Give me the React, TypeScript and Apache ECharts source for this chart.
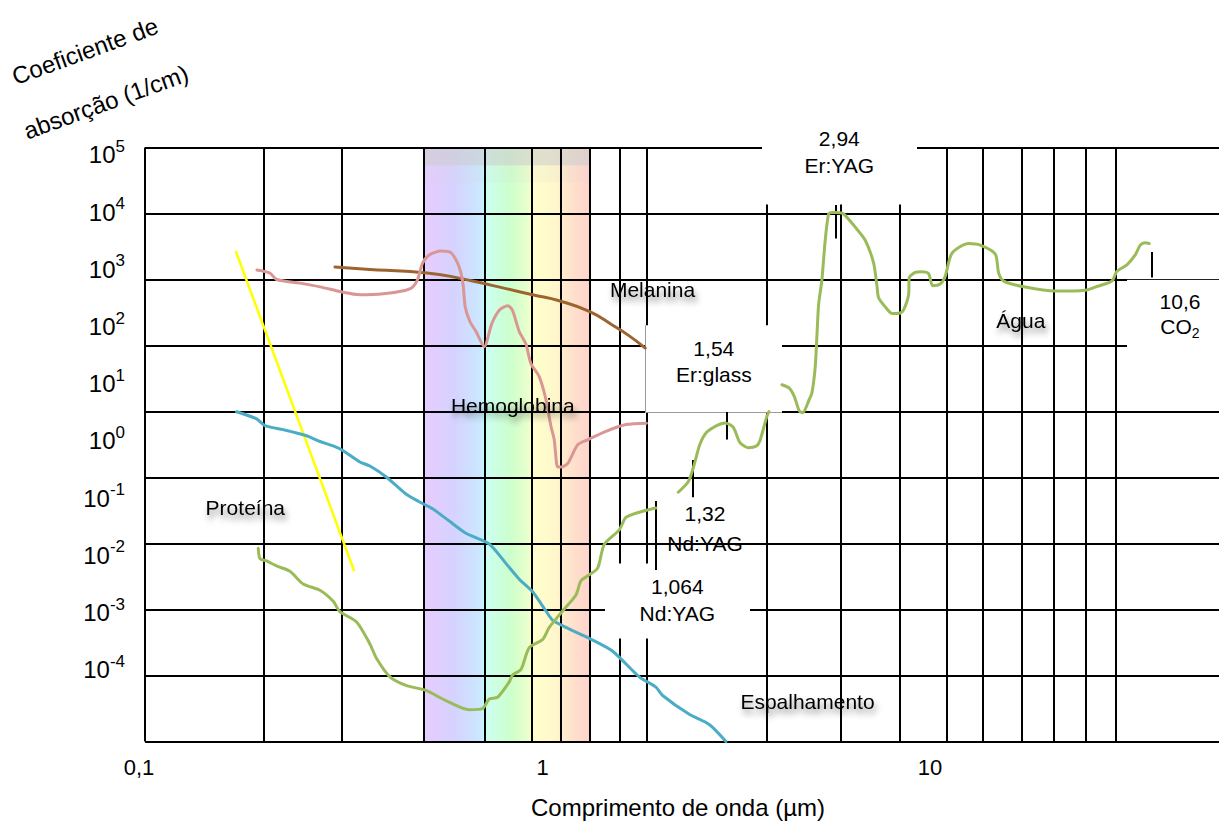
import React, { useEffect, useRef } from "react";
import * as echarts from "echarts";

const FONT = '"Liberation Sans", Arial, Helvetica, sans-serif';

// ===== Values: wavelength (µm) and absorption coefficient (1/cm) =====
const proteinWavelength = [0.1705, 0.3406];
const proteinAbsorption = [2640, 0.0393];

const melaninWavelength = [0.3047, 0.3741, 0.4621, 0.5618, 0.6834, 0.8308, 0.9718, 1.1359, 1.3547, 1.5539, 1.713, 1.8813];
const melaninAbsorption = [1545, 1423, 1330, 1187, 947, 728, 587, 476, 328, 203, 140, 91.2];

const hemoglobinWavelength = [
  0.1929, 0.2081, 0.2164, 0.2481, 0.279, 0.3198, 0.3528, 0.4044, 0.4621, 0.4807, 0.4949, 0.5096, 0.5298, 0.5675,
  0.6018, 0.6258, 0.6381, 0.6467, 0.6543, 0.6726, 0.6967, 0.7316, 0.7653, 0.8021, 0.8392, 0.8631, 0.8984, 0.9343,
  0.9622, 1.0102, 1.0506, 1.0821, 1.1031, 1.1253, 1.1474, 1.1933, 1.2654, 1.3417, 1.494, 1.6799, 1.8945,
];
const hemoglobinAbsorption = [
  1390, 1250, 1000, 881, 774, 640, 587, 607, 689, 768, 1000, 1774, 2355, 2704, 2553, 1774, 1259, 807, 385, 231, 164,
  96, 217, 350, 401, 344, 163, 105, 53.2, 33.7, 15.2, 5.97, 3.72, 1.44, 1.44, 1.62, 3.12, 3.72, 5.0, 6.34, 6.65,
];

const scatteringWavelength = [
  0.1712, 0.1925, 0.2021, 0.225, 0.258, 0.279, 0.3017, 0.3198, 0.3528, 0.3741, 0.4126, 0.4621, 0.4995, 0.5404, 0.5958,
  0.657, 0.7533, 0.8308, 0.8983, 0.9718, 1.0506, 1.0928, 1.1814, 1.3547, 1.5539, 1.8164, 2.003, 2.0836, 2.4356,
  2.739, 3.0204,
];
const scatteringAbsorption = [
  9.93, 7.74, 6.12, 5.31, 4.29, 3.51, 3.01, 2.55, 1.72, 1.49, 1.01, 0.562, 0.43, 0.336, 0.219, 0.143, 0.0984, 0.05,
  0.0288, 0.01855, 0.0095, 0.00692, 0.00535, 0.00365, 0.00233, 0.000955, 0.000668, 0.000498, 0.000258, 0.000181,
  0.0001,
];

// null = the drawn curve is interrupted there
const waterWavelength = [
  0.1943, 0.1963, 0.2041, 0.2164, 0.234, 0.2529, 0.279, 0.3017, 0.3137, 0.346, 0.3741, 0.3891, 0.4207, 0.4621, 0.5196,
  0.5843, 0.6699, 0.7247, 0.7533, 0.7914, 0.8472, 0.8642, 0.9074, 0.9527, 1.0305, 1.0713, 1.1589, 1.2528, 1.2903,
  1.3417, 1.423, 1.4792, 1.6153, 1.6799, 1.8164, 2.003, 2.15, 2.2832, 2.4212, 2.493, 2.593, 2.697, 2.86, 3.003,
  3.1525, 3.279, 3.4426, 3.6166, 3.6872, 3.835, 3.887, 4.05, 4.195, 4.379, 4.509, 4.643, 4.737, 4.924, 5.002, 5.1,
  5.152, 5.203, 5.305, 5.408, 5.517, 5.625, 5.793, 6.025, 6.449, 6.839, 7.184, 7.325, 7.398, 7.69, 8.012, 8.397,
  8.566, 8.821, 8.853, 9.17, 9.537, 9.92, 10.155, 10.618, 10.934, 11.373, 12.543, 13.427, 14.661, 14.957, 15.403,
  17.483, 20.847, 24.858, 26.36, 29.07, 29.94, 31.75, 33.33, 34.33, 35.35, 36.18,
];
const waterAbsorption = [
  0.0847, 0.0589, 0.0546, 0.0457, 0.038, 0.0244, 0.0196, 0.0133, 0.00926, 0.00648, 0.00301, 0.00181, 0.000955,
  0.00071, 0.000594, 0.000416, 0.000302, 0.000316, 0.00044, 0.000468, 0.0008, 0.00102, 0.00123, 0.00265, 0.00351,
  0.00535, 0.0095, 0.01663, 0.0273, 0.0322, 0.0424, 0.0968, 0.161, 0.248, 0.298, 0.345, null, 0.598, 0.863, 1.392,
  3.18, 4.83, 6.12, 6.72, 5.77, 3.38, 2.83, 3.01, 3.59, 8.22, 10, null, 25.4, 22.6, 17.0, 10.2, 9.58, 15.2, 19.05,
  47.5, 144.5, 419, 1000, 3936, 9840, 10400, 10400, 9840, 6210, 3936, 1774, 807, 528, 385, 305, 311, 346, 587, 1060,
  1284, 1315, 1228, 807, 853, 1120, 2495, 3516, 3319, 2438, 1259, 947, 768, 667, 689, 768, 947, 1330, 1671, 2355,
  3319, 3589, 3516,
];

// ===== Tick labels =====
const yTickExponents = [5, 4, 3, 2, 1, 0, -1, -2, -3, -4];

// ===== Layout (pixel positions measured on the reference) =====
const gridLeft = 145;
const gridTop = 147.5;
const gridWidth = 1074;
const gridHeight = 594;
const pxPerDecadeX = 392.5;
const refRowsPx = [147.5, 212.8, 280, 352.3, 419.5, 484.3, 547, 616.7, 676.7, 741.3]; // 1e5 ... 1e-4

const lamAt = (px: number) => Math.pow(10, -1 + (px - gridLeft) / pxPerDecadeX);
const expAt = (py: number) => {
  const r = refRowsPx;
  let i = 0;
  if (py >= r[r.length - 1]) i = r.length - 2;
  else if (py > r[0]) {
    while (py > r[i + 1]) i++;
  }
  const t = (py - r[i]) / (r[i + 1] - r[i]);
  return 5 - i - t;
};
const alphaAt = (py: number) => Math.pow(10, expAt(py));
const yOnChart = (py: number) => gridTop + (gridHeight / 9) * (5 - expAt(py));

// vertical rules: [x, yTop, yBottom]
const verticalRules: number[][] = [
  [145, 147.5, 741.3],
  [263.3, 147.5, 741.3],
  [342, 147.5, 741.3],
  [423.3, 147.5, 741.3],
  [484.7, 147.5, 741.3],
  [531.3, 147.5, 741.3],
  [560.3, 147.5, 741.3],
  [590, 147.5, 741.3],
  [619.3, 147.5, 568],
  [619.3, 643, 741.3],
  [646.3, 147.5, 330],
  [646.3, 420, 568],
  [646.3, 643, 741.3],
  [766.7, 204, 330],
  [766.7, 420, 741.3],
  [840.3, 204, 741.3],
  [899.3, 204, 741.3],
  [946.7, 147.5, 741.3],
  [982.7, 147.5, 741.3],
  [1022, 147.5, 741.3],
  [1054, 147.5, 741.3],
  [1086, 147.5, 741.3],
  [1115.3, 147.5, 741.3],
];
// horizontal rules: [decade exponent, xLeft, xRight]
const horizontalRules: number[][] = [
  [5, 145, 762],
  [5, 917, 1219],
  [4, 145, 1219],
  [3, 145, 1127],
  [2, 145, 645],
  [2, 782, 1127],
  [1, 145, 645],
  [1, 782, 1219],
  [0, 145, 1219],
  [-1, 145, 1219],
  [-2, 145, 605],
  [-2, 750, 1219],
  [-3, 145, 1219],
  [-4, 145, 1219],
];
// laser wavelength marker ticks: [x, yTop, yBottom]
const laserTicks: number[][] = [
  [835.7, 204.3, 238.3],
  [1152, 252, 278],
  [726.7, 420, 447],
  [692.7, 467, 503],
  [656, 506.7, 575],
];

const spectrumStops: [number, string][] = [
  [0, "#e8ccff"],
  [0.18, "#d6d2ff"],
  [0.33, "#cbe6ff"],
  [0.36, "#c8f2ff"],
  [0.375, "#ccfff2"],
  [0.52, "#ccffcc"],
  [0.62, "#e6ffcc"],
  [0.66, "#ffffcc"],
  [0.8, "#fff6cc"],
  [0.86, "#ffe6cc"],
  [1, "#ffd2cc"],
];

const pairs = (xs: number[], ys: (number | null)[]) => xs.map((x, i) => [x, ys[i] == null ? "-" : ys[i]]);

const vSeg = (px: number, y1: number, y2: number, style?: any) => {
  const a: any = { coord: [lamAt(px), alphaAt(y1)] };
  if (style) a.lineStyle = style;
  return [a, { coord: [lamAt(px), alphaAt(y2)] }];
};
const hSeg = (e: number, x1: number, x2: number, style?: any) => {
  const a: any = { coord: [lamAt(x1), Math.pow(10, e)] };
  if (style) a.lineStyle = style;
  return [a, { coord: [lamAt(x2), Math.pow(10, e)] }];
};

const curve = (name: string, xs: number[], ys: (number | null)[], color: string, width: number, smooth: number | boolean) => ({
  name,
  type: "line",
  xAxisIndex: 0,
  yAxisIndex: 0,
  data: pairs(xs, ys),
  showSymbol: false,
  symbol: "none",
  smooth,
  connectNulls: false,
  z: 4,
  silent: true,
  lineStyle: { color, width, cap: "round", join: "round" },
  itemStyle: { color },
  emphasis: { disabled: true },
});

const txt = (text: string, x: number, refY: number, shadow: boolean) => {
  const style: any = {
    text,
    fill: "#000",
    fontSize: 21,
    fontFamily: FONT,
    align: "center",
    textAlign: "center",
    verticalAlign: "middle",
    textVerticalAlign: "middle",
  };
  if (shadow) {
    style.textShadowColor = "rgba(0,0,0,0.45)";
    style.textShadowBlur = 6;
    style.textShadowOffsetX = 2;
    style.textShadowOffsetY = 5;
  }
  return { type: "text", x, y: yOnChart(refY), z: 100, silent: true, style };
};

function buildOption(): any {
  const thinGray = { color: "#9a9a9a", width: 1, type: "solid" };
  const thinBlack = { color: "#222", width: 1.2, type: "solid" };
  const ruleData: any[] = [
    ...verticalRules.map(([x, a, b]) => vSeg(x, a, b)),
    ...horizontalRules.map(([e, a, b]) => hSeg(e, a, b)),
    hSeg(3, 1127, 1219, thinBlack),
    vSeg(645.3, 330, 420, thinGray),
    [{ coord: [lamAt(645.3), alphaAt(420)], lineStyle: thinGray }, { coord: [lamAt(782), alphaAt(420)] }],
    ...laserTicks.map(([x, a, b]) => vSeg(x, a, b)),
  ];

  const specLeft = lamAt(423.3);
  const specRight = lamAt(590);

  return {
    animation: false,
    backgroundColor: "#fff",
    textStyle: { fontFamily: FONT },
    grid: {
      left: gridLeft,
      top: gridTop,
      width: gridWidth,
      height: gridHeight,
      containLabel: false,
      outerBoundsMode: "none",
    },
    xAxis: {
      type: "log",
      logBase: 10,
      min: 0.1,
      max: lamAt(gridLeft + gridWidth),
      axisLine: { show: false },
      axisTick: { show: false },
      splitLine: { show: false },
      axisLabel: {
        margin: 15,
        showMaxLabel: false,
        color: "#000",
        fontSize: 22,
        fontFamily: FONT,
        formatter: (v: number) => {
          const e = Math.log10(v);
          const r = Math.round(e);
          if (Math.abs(e - r) > 1e-6) return "";
          if (r === -1) return "{a|0,1}";
          if (r === 0) return "{c|1}";
          return `{n|${Math.pow(10, r)}}`;
        },
        rich: {
          a: { fontSize: 22, fontFamily: FONT, color: "#000", padding: [0, 12, 0, 0] },
          c: { fontSize: 22, fontFamily: FONT, color: "#000", padding: [0, 0, 0, 10] },
          n: { fontSize: 22, fontFamily: FONT, color: "#000" },
        },
      },
      name: "Comprimento de onda (µm)",
      nameLocation: "middle",
      nameGap: 54,
      nameTextStyle: { fontSize: 24, color: "#000", fontFamily: FONT, padding: [0, 8, 0, 0] },
    },
    yAxis: [
      {
        type: "log",
        logBase: 10,
        min: 1e-4,
        max: 1e5,
        position: "left",
        axisLine: { show: false },
        axisTick: { show: false },
        axisLabel: { show: false },
        splitLine: { show: false },
      },
      {
        type: "value",
        min: -5.2535,
        max: 5.1311,
        position: "left",
        axisLine: { show: false },
        axisTick: { show: false },
        splitLine: { show: false },
        axisLabel: {
          customValues: yTickExponents,
          margin: 20,
          formatter: (v: number) => `{b|10}{s|${v}}`,
          rich: {
            b: { fontSize: 24, fontFamily: FONT, color: "#000", lineHeight: 34, verticalAlign: "middle" },
            s: { fontSize: 17, fontFamily: FONT, color: "#000", lineHeight: 15, verticalAlign: "top" },
          },
        },
      },
    ],
    series: [
      {
        name: "frame",
        type: "line",
        data: [],
        silent: true,
        clip: false,
        z: 1,
        markArea: {
          silent: true,
          z: 1,
          label: { show: false },
          emphasis: { disabled: true },
          data: [
            [
              {
                coord: [specLeft, 1e5],
                itemStyle: {
                  opacity: 1,
                  color: {
                    type: "linear",
                    x: 0,
                    y: 0,
                    x2: 1,
                    y2: 0,
                    colorStops: spectrumStops.map(([o, c]) => ({ offset: o, color: c })),
                  },
                },
              },
              { coord: [specRight, 1e-4] },
            ],
            [
              { coord: [specLeft, 1e5], itemStyle: { opacity: 1, color: "rgba(205,205,205,0.62)" } },
              { coord: [specRight, alphaAt(165)] },
            ],
            [
              { coord: [specLeft, alphaAt(165)], itemStyle: { opacity: 1, color: "rgba(210,210,210,0.14)" } },
              { coord: [specRight, alphaAt(182)] },
            ],
          ],
        },
        markLine: {
          silent: true,
          z: 3,
          symbol: ["none", "none"],
          label: { show: false },
          emphasis: { disabled: true },
          lineStyle: { color: "#000", width: 2, type: "solid" },
          data: ruleData,
        },
      },
      curve("Proteína", proteinWavelength, proteinAbsorption, "#ffff00", 2.5, false),
      curve("Melanina", melaninWavelength, melaninAbsorption, "#9c6530", 3, 0.5),
      curve("Hemoglobina", hemoglobinWavelength, hemoglobinAbsorption, "#d99694", 3, 0.25),
      curve("Espalhamento", scatteringWavelength, scatteringAbsorption, "#4bacc6", 3, 0.25),
      curve("Água", waterWavelength, waterAbsorption, "#9bbb59", 3, 0.25),
    ],
    graphic: {
      elements: [
        {
          type: "text",
          x: 85,
          y: 51,
          rotation: (20 * Math.PI) / 180,
          z: 100,
          silent: true,
          style: {
            text: "Coeficiente de",
            fill: "#000",
            fontSize: 24,
            fontFamily: FONT,
            align: "center",
            textAlign: "center",
            verticalAlign: "middle",
            textVerticalAlign: "middle",
          },
        },
        {
          type: "text",
          x: 106,
          y: 102,
          rotation: (20 * Math.PI) / 180,
          z: 100,
          silent: true,
          style: {
            text: "absorção (1/cm)",
            fill: "#000",
            fontSize: 24,
            fontFamily: FONT,
            align: "center",
            textAlign: "center",
            verticalAlign: "middle",
            textVerticalAlign: "middle",
          },
        },
        txt("Proteína", 245.3, 513, true),
        txt("Hemoglobina", 512.8, 413.5, true),
        txt("Melanina", 652.5, 290.5, true),
        txt("Água", 1020.8, 325, true),
        txt("Espalhamento", 807.5, 702, true),
        txt("2,94", 839.3, 138.3, false),
        txt("Er:YAG", 839.3, 165, false),
        txt("1,54", 713.8, 355.7, false),
        txt("Er:glass", 713.8, 382.3, false),
        txt("1,32", 705, 518.3, false),
        txt("Nd:YAG", 705, 546.7, false),
        txt("1,064", 677.3, 592.7, false),
        txt("Nd:YAG", 677.3, 620.7, false),
        txt("10,6", 1180, 304, false),
        {
          type: "text",
          x: 1180,
          y: yOnChart(331.7),
          z: 100,
          silent: true,
          style: {
            text: "{a|CO}{s|2}",
            fill: "#000",
            fontSize: 21,
            fontFamily: FONT,
            align: "center",
            textAlign: "center",
            verticalAlign: "middle",
            textVerticalAlign: "middle",
            rich: {
              a: { fontSize: 21, fontFamily: FONT, fill: "#000", lineHeight: 26, verticalAlign: "middle" },
              s: { fontSize: 14, fontFamily: FONT, fill: "#000", lineHeight: 18, verticalAlign: "bottom" },
            },
          },
        },
      ],
    },
  };
}

export default function App() {
  const ref = useRef<HTMLDivElement>(null);
  useEffect(() => {
    if (!ref.current) return;
    const chart = echarts.init(ref.current, undefined, { renderer: "svg" });
    chart.setOption(buildOption());
    return () => chart.dispose();
  }, []);
  return (
    <div
      ref={ref}
      style={{ position: "fixed", left: 0, top: 0, width: 1219, height: 821, background: "#fff" }}
    />
  );
}
